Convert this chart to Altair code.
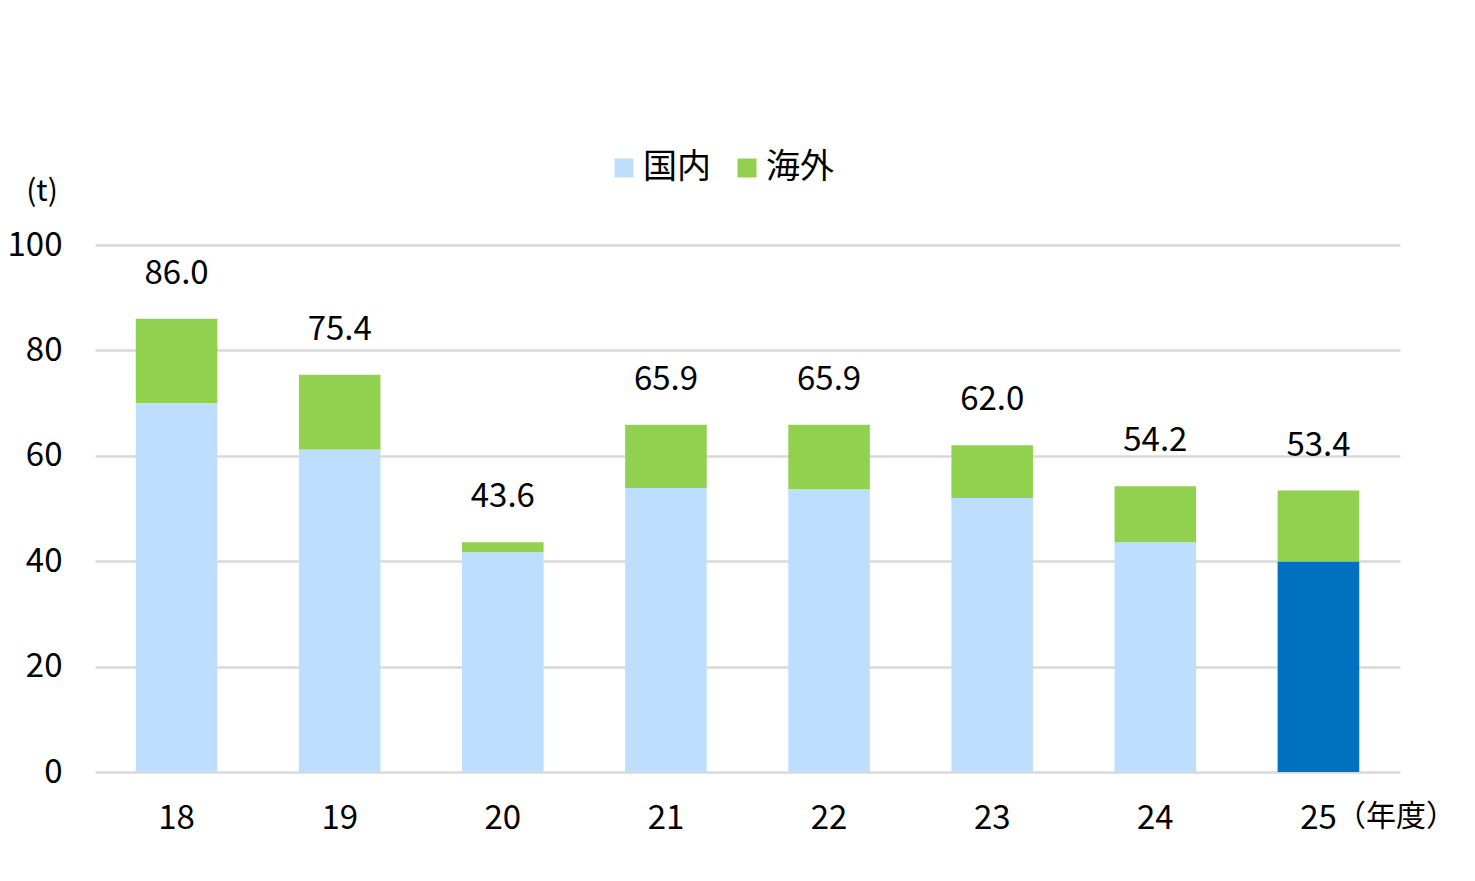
import altair as alt
import pandas as pd

# Fiscal years and tonnage by destination
years = ["18", "19", "20", "21", "22", "23", "24", "25"]
domestic = [70.0, 61.2, 41.7, 53.9, 53.7, 52.0, 43.6, 39.9]
overseas = [16.0, 14.2, 1.9, 12.0, 12.2, 10.0, 10.6, 13.5]
series = ["国内", "海外"]
colors = ["#BDDEFF", "#92D050"]
highlight_year = "25"
highlight_color = "#0070C0"

FONT = "Noto Sans CJK JP"
PLOT_H = 527

rows = []
for yr, d, o in zip(years, domestic, overseas):
    rows.append({"year": yr, "series": series[0], "y0": 0.0, "y1": d})
    rows.append({"year": yr, "series": series[1], "y0": d, "y1": round(d + o, 1)})
bars_df = pd.DataFrame(rows)
totals_df = pd.DataFrame({
    "year": years,
    "total": [round(d + o, 1) for d, o in zip(domestic, overseas)],
})
hl_df = bars_df[(bars_df.year == highlight_year) & (bars_df.series == series[0])]

x_enc = alt.X(
    "year:N",
    sort=years,
    title=None,
    scale=alt.Scale(paddingInner=0.5, paddingOuter=0.25),
    axis=alt.Axis(
        labelAngle=0, labelFontSize=33, labelFont=FONT, labelColor="#000000",
        labelPadding=30, domain=False, ticks=False, grid=False,
    ),
)

bars = alt.Chart(bars_df).mark_bar().encode(
    x=x_enc,
    y=alt.Y(
        "y0:Q",
        title=None,
        scale=alt.Scale(domain=[0, 100]),
        axis=alt.Axis(
            values=[0, 20, 40, 60, 80, 100], labelFontSize=33, labelFont=FONT,
            labelColor="#000000", labelPadding=33, domain=False, ticks=False,
            gridColor="#D9D9D9", gridWidth=2.5,
        ),
    ),
    y2="y1:Q",
    color=alt.Color(
        "series:N",
        scale=alt.Scale(domain=series, range=colors),
        legend=alt.Legend(
            title=None, orient="none", direction="horizontal",
            legendX=512, legendY=-94, symbolType="square", symbolSize=361,
            symbolStrokeWidth=0, labelFontSize=34, labelFont=FONT,
            labelColor="#000000", labelOffset=2, columnPadding=19,
        ),
    ),
)

highlight = alt.Chart(hl_df).mark_bar(color=highlight_color).encode(
    x=alt.X("year:N", sort=years),
    y="y0:Q",
    y2="y1:Q",
)

labels = alt.Chart(totals_df).mark_text(
    fontSize=33, font=FONT, color="#000000", baseline="alphabetic", dy=-35,
).encode(
    x=alt.X("year:N", sort=years),
    y="total:Q",
    text=alt.Text("total:Q", format=".1f"),
)

unit = alt.Chart(pd.DataFrame({"t": ["(t)"]})).mark_text(
    fontSize=30, font=FONT, color="#000000",
).encode(x=alt.value(-53), y=alt.value(-53), text="t:N")

year_unit = alt.Chart(pd.DataFrame({"t": ["（年度）"]})).mark_text(
    fontSize=30, font=FONT, color="#000000", align="left",
).encode(x=alt.value(1241), y=alt.value(PLOT_H + 45), text="t:N")

chart = alt.layer(bars, highlight, labels, unit, year_unit).properties(
    width=1305,
    height=PLOT_H,
    padding={"left": 95, "top": 245, "right": 75, "bottom": 109},
    autosize=alt.AutoSizeParams(type="none"),
).configure(background="#FFFFFF").configure_view(strokeWidth=0)

chart.save("out.html", embed_options={"renderer": "svg", "actions": False})
